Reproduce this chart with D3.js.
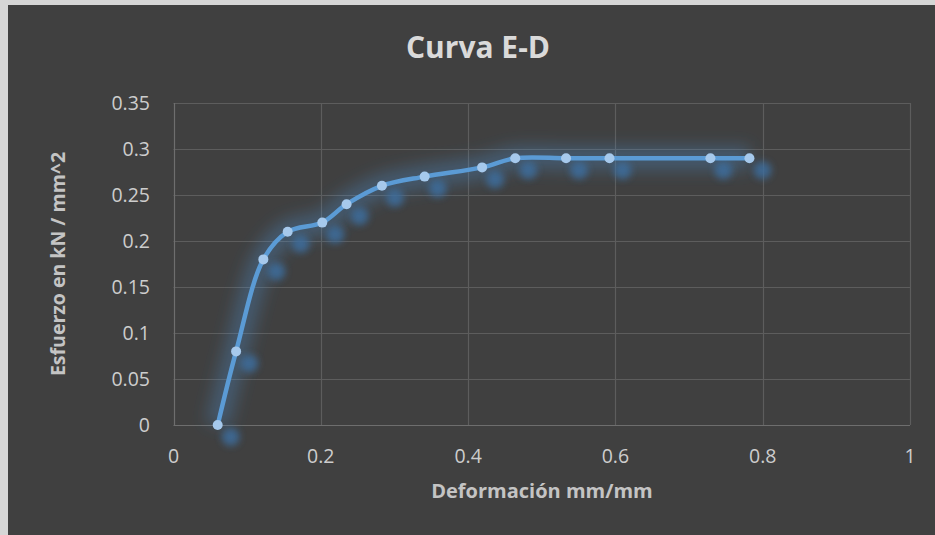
<!DOCTYPE html>
<html>
<head>
<meta charset="utf-8">
<script src="https://cdn.jsdelivr.net/npm/d3@7"></script>
<style>
  body { margin: 0; background: #d6d6d6; }
  svg { display: block; }
  text { font-family: "Open Sans", sans-serif; }
</style>
</head>
<body>
<svg id="chart" width="935" height="535"></svg>
<script>
// data
var deformacion = [0.06, 0.085, 0.122, 0.155, 0.202, 0.235, 0.283, 0.341, 0.419, 0.464, 0.533, 0.592, 0.729, 0.782];
var esfuerzo    = [0,    0.08,  0.18,  0.21,  0.22,  0.24,  0.26,  0.27,  0.28,  0.29,  0.29,  0.29,  0.29,  0.29];
var xTicks = [0, 0.2, 0.4, 0.6, 0.8, 1];
var yTicks = [0, 0.05, 0.1, 0.15, 0.2, 0.25, 0.3, 0.35];

var titulo = "Curva E-D",
    xTitulo = "Deformación mm/mm",
    yTitulo = "Esfuerzo en kN / mm^2";

var puntos = deformacion.map(function(d, i) { return [d, esfuerzo[i]]; });

var svg = d3.select("#chart");

// chart background (light strip left / top like the screenshot)
svg.append("rect")
    .attr("x", 8).attr("y", 5)
    .attr("width", 935 - 8).attr("height", 535 - 5)
    .attr("fill", "#404040");

var x = d3.scaleLinear().domain([0, 1]).range([173.5, 910]);
var y = d3.scaleLinear().domain([0, 0.35]).range([425, 103]);

// filters
var defs = svg.append("defs");
defs.append("filter").attr("id", "glow")
    .attr("x", "-20%").attr("y", "-20%").attr("width", "140%").attr("height", "140%")
  .append("feGaussianBlur").attr("stdDeviation", 8);
defs.append("filter").attr("id", "sombra")
    .attr("x", "-100%").attr("y", "-100%").attr("width", "300%").attr("height", "300%")
  .append("feGaussianBlur").attr("stdDeviation", 3.5);

// gridlines
svg.append("g")
  .selectAll("line")
  .data(yTicks)
  .enter().append("line")
    .attr("x1", x(0)).attr("x2", x(1))
    .attr("y1", function(d) { return Math.round(y(d)) + 0.5; })
    .attr("y2", function(d) { return Math.round(y(d)) + 0.5; })
    .attr("stroke", function(d) { return d === 0 ? "#6e6e6e" : "#5d5d5d"; })
    .attr("stroke-width", 1.2);

svg.append("g")
  .selectAll("line")
  .data(xTicks)
  .enter().append("line")
    .attr("y1", y(0)).attr("y2", y(0.35))
    .attr("x1", function(d) { return Math.round(x(d)) + 0.5; })
    .attr("x2", function(d) { return Math.round(x(d)) + 0.5; })
    .attr("stroke", function(d) { return d === 0 ? "#6e6e6e" : "#5d5d5d"; })
    .attr("stroke-width", 1.2);

// tick labels
svg.append("g")
  .selectAll("text")
  .data(yTicks)
  .enter().append("text")
    .attr("x", 150)
    .attr("y", function(d) { return y(d); })
    .attr("dy", "0.35em")
    .attr("text-anchor", "end")
    .attr("fill", "#cdcdcd")
    .style("font-size", "19.5px")
    .text(function(d) { return d3.format("")(d); });

svg.append("g")
  .selectAll("text")
  .data(xTicks)
  .enter().append("text")
    .attr("x", function(d) { return x(d); })
    .attr("y", 456)
    .attr("dy", "0.35em")
    .attr("text-anchor", "middle")
    .attr("fill", "#cdcdcd")
    .style("font-size", "19.5px")
    .text(function(d) { return d3.format("")(d); });

// titles
svg.append("text")
    .attr("x", 478).attr("y", 47)
    .attr("dy", "0.35em")
    .attr("text-anchor", "middle")
    .attr("fill", "#dadada")
    .style("font-size", "30px")
    .style("font-weight", "bold")
    .text(titulo);

svg.append("text")
    .attr("x", 542).attr("y", 491)
    .attr("dy", "0.35em")
    .attr("text-anchor", "middle")
    .attr("fill", "#c4c4c4")
    .style("font-size", "20px")
    .style("font-weight", "bold")
    .text(xTitulo);

svg.append("text")
    .attr("transform", "translate(58,264) rotate(-90)")
    .attr("dy", "0.35em")
    .attr("text-anchor", "middle")
    .attr("fill", "#c4c4c4")
    .style("font-size", "19.5px")
    .style("font-weight", "bold")
    .text(yTitulo);

// series
var linea = d3.line()
    .x(function(d) { return x(d[0]); })
    .y(function(d) { return y(d[1]); })
    .curve(d3.curveCatmullRom.alpha(0.5));

// soft glow behind the line
svg.append("path")
    .datum(puntos)
    .attr("d", linea)
    .attr("fill", "none")
    .attr("stroke", "#4f8fd0")
    .attr("stroke-width", 24)
    .attr("stroke-opacity", 0.32)
    .attr("stroke-linejoin", "round")
    .attr("filter", "url(#glow)");

// marker shadows (offset)
svg.append("g")
  .selectAll("circle")
  .data(puntos)
  .enter().append("circle")
    .attr("cx", function(d) { return x(d[0]) + 13; })
    .attr("cy", function(d) { return y(d[1]) + 12; })
    .attr("r", 9)
    .attr("fill", "#3e6d9c")
    .attr("opacity", 0.85)
    .attr("filter", "url(#sombra)");

svg.append("path")
    .datum(puntos)
    .attr("d", linea)
    .attr("fill", "none")
    .attr("stroke", "#5b9bd5")
    .attr("stroke-width", 4.5)
    .attr("stroke-linejoin", "round");

svg.append("g")
  .selectAll("circle")
  .data(puntos)
  .enter().append("circle")
    .attr("cx", function(d) { return x(d[0]); })
    .attr("cy", function(d) { return y(d[1]); })
    .attr("r", 5)
    .attr("fill", "#a6c9ec");
</script>
</body>
</html>
